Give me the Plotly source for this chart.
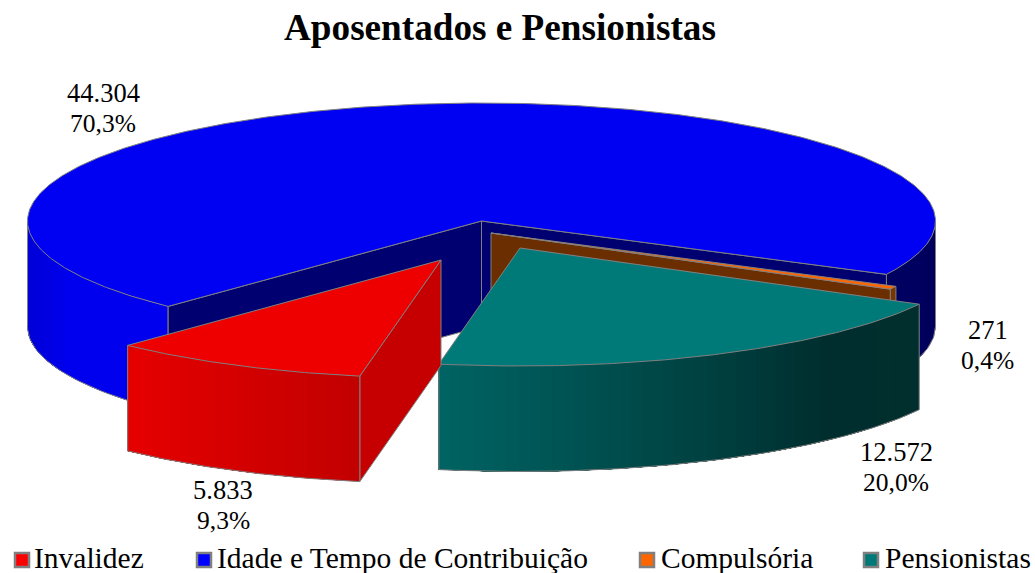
import numpy as np
import plotly.graph_objects as go

categories = ["Invalidez", "Idade e Tempo de Contribuição", "Compulsória", "Pensionistas"]
values = [5833, 44304, 271, 12572]
title_text = "Aposentados e Pensionistas"

# pie projection (pixels)
RX, RY, DEPTH = 454, 118, 105.5
START = 100.3
centers = [(441, 260), (481.5, 221), (491, 233), (520, 248)]
top_col = ["#ee0000", "#0000f2", "#ff6600", "#007a78"]
cut_col = ["#c60000", "#000070", "#6b2e00", "#005050"]
EDGE = "#808080"
SERIF = "Liberation Serif"

total = sum(values)
spans = [v / total * 360 for v in values]
starts = [START + sum(spans[:i]) for i in range(len(values))]

fig = go.Figure()


def poly(xs, ys, fill, line=EDGE, w=1):
    fig.add_trace(go.Scatter(x=list(xs), y=list(ys), mode="lines", fill="toself",
                             fillcolor=fill, line=dict(color=line, width=w),
                             hoverinfo="skip", showlegend=False))


def stroke(xs, ys):
    fig.add_trace(go.Scatter(x=list(xs), y=list(ys), mode="lines",
                             line=dict(color=EDGE, width=1),
                             hoverinfo="skip", showlegend=False))


def ell(c, a):
    a = np.radians(a)
    return c[0] + RX * np.cos(a), c[1] + RY * np.sin(a)


def mix(stops, x):
    xs = [s[0] for s in stops]
    rgb = [np.interp(x, xs, [s[1][k] for s in stops]) for k in range(3)]
    return "rgb(%d,%d,%d)" % tuple(rgb)


def outer_wall(c, a0, a1, stops, n):
    """Gradient wall: each strip runs on to the wall's far end and the next one
    paints over it, so no seams show between the strips."""
    edges = np.linspace(a0, a1, n + 1)
    for p in edges[:-1]:
        arc = np.linspace(p, a1, 60)
        x, y = ell(c, arc)
        q = p + (a1 - a0) / n
        col = mix(stops, float(ell(c, (p + q) / 2)[0]))
        poly(np.r_[x, x[::-1]], np.r_[y, y[::-1] + DEPTH], col, col, 0)
    arc = np.linspace(a0, a1, max(n * 3, 4))
    x, y = ell(c, arc)
    stroke(x, y + DEPTH)
    stroke([x[0], x[0]], [y[0], y[0] + DEPTH])
    stroke([x[-1], x[-1]], [y[-1], y[-1] + DEPTH])


def cut_wall(c, a, col):
    x, y = ell(c, a)
    poly([c[0], x, x, c[0], c[0]], [c[1], y, y + DEPTH, c[1] + DEPTH, c[1]], col)


def top(c, a0, a1, col):
    arc = np.linspace(a0, a1, max(int(a1 - a0) * 2, 6))
    x, y = ell(c, arc)
    poly(np.r_[c[0], x, c[0]], np.r_[c[1], y, c[1]], col)


red_stops = [(127, (230, 0, 0)), (360, (194, 0, 0))]
blue_left = [(27, (0, 0, 216)), (70, (0, 0, 238)), (170, (0, 0, 240))]
blue_right = [(888, (0, 0, 100)), (935, (0, 0, 92))]
orange_st = [(880, (120, 55, 0)), (900, (120, 55, 0))]
teal_st = [(439, (0, 100, 100)), (700, (0, 66, 66)), (830, (0, 46, 46)), (918, (0, 48, 46))]

# Idade e Tempo de Contribuição
c = centers[1]
a0, a1 = starts[1], starts[1] + spans[1]
outer_wall(c, a0, 180, blue_left, 12)
outer_wall(c, 360, a1, blue_right, 2)
cut_wall(c, a1, cut_col[1])
cut_wall(c, a0, cut_col[1])
top(c, a0, a1, top_col[1])

# Compulsória
c = centers[2]
a0, a1 = starts[2], starts[2] + spans[2]
outer_wall(c, a0, a1, orange_st, 1)
cut_wall(c, a1, cut_col[2])
top(c, a0, a1, top_col[2])

# Pensionistas
c = centers[3]
a0, a1 = starts[3], starts[3] + spans[3]
outer_wall(c, a0, a1, teal_st, 50)
top(c, a0, a1, top_col[3])

# Invalidez
c = centers[0]
a0, a1 = starts[0], starts[0] + spans[0]
cut_wall(c, a0, cut_col[0])
outer_wall(c, a0, a1, red_stops, 24)
top(c, a0, a1, top_col[0])

# value labels
label_pos = [(223, 490, 520), (103, 93, 123), (987.5, 330, 360), (896, 452, 482)]
annotations = []
for v, (lx, y1, y2) in zip(values, label_pos):
    for s, ly, fs in ((f"{v:,}".replace(",", "."), y1, 26.5),
                      (f"{v / total * 100:.1f}%".replace(".", ","), y2, 25.5)):
        annotations.append(dict(x=lx, y=ly, text=s, showarrow=False, xref="x", yref="y",
                                font=dict(family=SERIF, size=fs, color="#000000")))

# legend
leg_sw = [22, 204, 647, 871]
leg_tx = [32, 215, 659, 883]
fig.add_trace(go.Scatter(x=leg_sw, y=[560] * 4, mode="markers", hoverinfo="skip", showlegend=False,
                         marker=dict(symbol="square", size=14, color=["#ff0000", "#0000ff", "#ff6600", "#007a78"],
                                     line=dict(color=EDGE, width=2.5))))
for name, lx in zip(categories, leg_tx):
    annotations.append(dict(x=lx, y=558, text=name, showarrow=False, xanchor="left", xref="x", yref="y",
                            font=dict(family=SERIF, size=29.5, color="#000000")))

annotations.append(dict(x=500, y=27, text="<b>%s</b>" % title_text, showarrow=False, xref="x", yref="y",
                        font=dict(family=SERIF, size=37.2, color="#000000")))

fig.update_layout(width=1035, height=573, margin=dict(l=0, r=0, t=0, b=0),
                  paper_bgcolor="white", plot_bgcolor="white", showlegend=False,
                  annotations=annotations,
                  xaxis=dict(range=[0, 1035], visible=False, fixedrange=True),
                  yaxis=dict(range=[573, 0], visible=False, fixedrange=True))
fig.write_html("out.html", config={"displayModeBar": False},
               post_script="document.body.style.margin='0';document.body.style.overflow='hidden';")
